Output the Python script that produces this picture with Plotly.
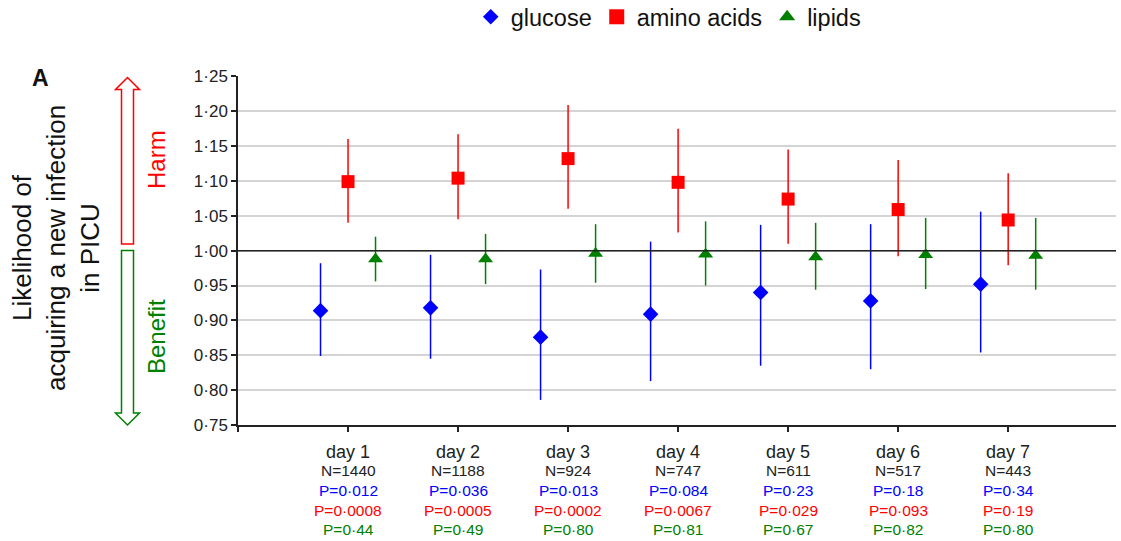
import plotly.graph_objects as go

# ---------------- data ----------------
days = [1, 2, 3, 4, 5, 6, 7]
day_labels = ["day 1", "day 2", "day 3", "day 4", "day 5", "day 6", "day 7"]
n_patients = [1440, 1188, 924, 747, 611, 517, 443]

glucose_or = [0.914, 0.918, 0.876, 0.909, 0.940, 0.928, 0.952]
glucose_lo = [0.849, 0.845, 0.786, 0.813, 0.835, 0.830, 0.854]
glucose_hi = [0.982, 0.994, 0.973, 1.013, 1.037, 1.038, 1.056]

amino_or = [1.099, 1.104, 1.132, 1.098, 1.074, 1.059, 1.044]
amino_lo = [1.040, 1.045, 1.060, 1.026, 1.010, 0.992, 0.979]
amino_hi = [1.160, 1.167, 1.209, 1.175, 1.145, 1.130, 1.111]

lipid_or = [0.988, 0.988, 0.996, 0.995, 0.991, 0.994, 0.993]
lipid_lo = [0.956, 0.952, 0.954, 0.950, 0.944, 0.945, 0.944]
lipid_hi = [1.020, 1.024, 1.038, 1.042, 1.040, 1.047, 1.047]

p_glucose = ["0·012", "0·036", "0·013", "0·084", "0·23", "0·18", "0·34"]
p_amino = ["0·0008", "0·0005", "0·0002", "0·0067", "0·029", "0·093", "0·19"]
p_lipids = ["0·44", "0·49", "0·80", "0·81", "0·67", "0·82", "0·80"]

y_ticks = [0.75, 0.80, 0.85, 0.90, 0.95, 1.00, 1.05, 1.10, 1.15, 1.20, 1.25]
y_ticktext = ["0·75", "0·80", "0·85", "0·90", "0·95", "1·00", "1·05", "1·10", "1·15", "1·20", "1·25"]

# ---------------- style ----------------
W, H = 1121, 541
L, R, T, B = 238, 5, 76, 116
BLUE, RED, GREEN = "#0000ff", "#ff0000", "#008000"
FONT = "Arial, Liberation Sans, sans-serif"


def px(xp):
    return (xp - L) / (W - L - R)


def py(yp):
    return (H - B - yp) / (H - T - B)


def series(name, offset, vals, lo, hi, color, symbol, size):
    return go.Scatter(
        x=[d + offset for d in days], y=vals, mode="markers", name=name,
        showlegend=False,
        marker=dict(symbol=symbol, size=size, color=color, line=dict(width=0)),
        error_y=dict(type="data", symmetric=False,
                     array=[h - v for h, v in zip(hi, vals)],
                     arrayminus=[v - l for v, l in zip(vals, lo)],
                     color=color, thickness=1.5, width=0),
    )


def legend_entry(name, color, symbol, size):
    return go.Scatter(x=[None], y=[None], mode="markers", name=name, showlegend=True,
                      marker=dict(symbol=symbol, size=size, color=color, line=dict(width=0)))


fig = go.Figure()
fig.add_trace(series("glucose", -0.25, glucose_or, glucose_lo, glucose_hi, BLUE, "diamond", 12))
fig.add_trace(series("amino acids", 0.0, amino_or, amino_lo, amino_hi, RED, "square", 13))
fig.add_trace(series("lipids", 0.25, lipid_or, lipid_lo, lipid_hi, GREEN, "triangle-up", 13))
fig.add_trace(legend_entry("glucose", BLUE, "diamond", 12))
fig.add_trace(legend_entry("amino acids", RED, "square", 15))
fig.add_trace(legend_entry("lipids", GREEN, "triangle-up", 14))

annotations = []
rows = [(451.5, 18, "#222222"), (470.5, 15.5, "#222222"), (490.5, 15.5, BLUE),
        (510, 15.5, RED), (529, 15.5, GREEN)]
for i, d in enumerate(days):
    texts = [day_labels[i], f"N={n_patients[i]}", f"P={p_glucose[i]}",
             f"P={p_amino[i]}", f"P={p_lipids[i]}"]
    for (yy, fs, col), t in zip(rows, texts):
        annotations.append(dict(x=d, xref="x", y=py(yy), yref="paper", text=t,
                                showarrow=False, xanchor="center", yanchor="middle",
                                font=dict(size=fs, color=col, family=FONT)))

# y-axis title
annotations.append(dict(x=px(56), y=py(248), xref="paper", yref="paper",
                        text="Likelihood of<br>acquiring a new infection<br>in PICU",
                        textangle=-90, showarrow=False, xanchor="center", yanchor="middle",
                        font=dict(size=26, color="#111111", family=FONT)))
annotations.append(dict(x=px(156), y=py(160), xref="paper", yref="paper", text="Harm",
                        textangle=-90, showarrow=False, xanchor="center", yanchor="middle",
                        font=dict(size=24, color=RED, family=FONT)))
annotations.append(dict(x=px(156), y=py(337), xref="paper", yref="paper", text="Benefit",
                        textangle=-90, showarrow=False, xanchor="center", yanchor="middle",
                        font=dict(size=24, color=GREEN, family=FONT)))
annotations.append(dict(x=px(40), y=py(78), xref="paper", yref="paper", text="<b>A</b>",
                        showarrow=False, xanchor="center", yanchor="middle",
                        font=dict(size=23, color="#111111", family=FONT)))


def path(points):
    s = "M " + " L ".join(f"{px(a):.5f},{py(b):.5f}" for a, b in points) + " Z"
    return s


shapes = [
    dict(type="line", xref="paper", yref="y", x0=0, x1=1, y0=1.0, y1=1.0,
         line=dict(color="#222222", width=1.5)),
    dict(type="path", xref="paper", yref="paper",
         path=path([(121.5, 244), (121.5, 89.5), (115.5, 89.5), (127.5, 77.5),
                    (139.5, 89.5), (133.5, 89.5), (133.5, 244)]),
         line=dict(color=RED, width=1.5), fillcolor="white"),
    dict(type="path", xref="paper", yref="paper",
         path=path([(121.5, 250.5), (121.5, 413), (115.5, 413), (127.5, 425),
                    (139.5, 413), (133.5, 413), (133.5, 250.5)]),
         line=dict(color=GREEN, width=1.5), fillcolor="white"),
]

fig.update_layout(
    width=W, height=H,
    margin=dict(l=L, r=R, t=T, b=B, pad=0, autoexpand=False),
    paper_bgcolor="white", plot_bgcolor="white",
    font=dict(family=FONT, color="#222222"),
    showlegend=True,
    legend=dict(orientation="h", x=0.49, xanchor="center", y=py(17), yanchor="middle",
                font=dict(size=23.5, color="#111111", family=FONT), itemwidth=30,
                bgcolor="rgba(0,0,0,0)"),
    xaxis=dict(range=[0, 7.98], tickvals=[0, 1, 2, 3, 4, 5, 6, 7], showticklabels=False,
               ticks="outside", ticklen=5, tickcolor="#222222", tickwidth=1.5,
               showline=True, linecolor="#222222", linewidth=1.5, showgrid=False,
               zeroline=False, fixedrange=True),
    yaxis=dict(range=[0.75, 1.2505], tickvals=y_ticks, ticktext=y_ticktext,
               ticks="outside", ticklen=5, tickcolor="#222222", tickwidth=1.5,
               tickfont=dict(size=17, color="#222222", family=FONT),
               showline=True, linecolor="#222222", linewidth=1.5,
               showgrid=True, gridcolor="#d4d4d4", gridwidth=1.5, zeroline=False,
               fixedrange=True),
    annotations=annotations,
    shapes=shapes,
)

fig.write_html("out.html")
